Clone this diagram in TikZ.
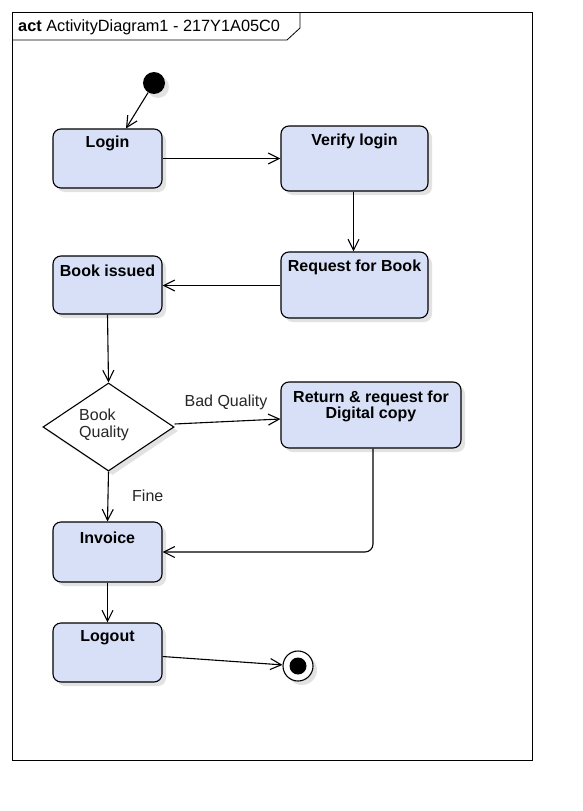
\documentclass[tikz,border=0pt]{standalone}
\usepackage{fontspec}
\setmainfont{Liberation Sans}
\usetikzlibrary{arrows.meta,shapes.geometric,shadows}
\definecolor{actfill}{RGB}{216,224,247}
\definecolor{shadowgray}{RGB}{226,226,226}
\begin{document}
\begin{tikzpicture}[x=1pt,y=-1pt,
  shd/.style={drop shadow={shadow xshift=4pt,shadow yshift=-4pt,fill=shadowgray,opacity=1}},
  act/.style={draw=black,line width=1.1pt,fill=actfill,rounded corners=8pt,inner sep=0pt,shd},
  atext/.style={font=\fontsize{16}{16}\selectfont\bfseries,align=center,inner sep=0pt},
  ltext/.style={font=\fontsize{16}{17}\selectfont,inner sep=0pt,text=black!85},
  flow/.style={draw=black,line width=1.1pt,-{Straight Barb[length=11pt,width=11pt,line width=1.1pt]}}
]
\useasboundingbox (0,0) rectangle (582,811);
\fill[white] (0,0) rectangle (582,811);
% frame
\draw[line width=0.8pt] (12,12) rectangle (532,760);
\coordinate (tabend) at (12,40);
\draw[line width=0.8pt] (tabend) -- (287,40) -- (300,28) -- (300,12);
\node[anchor=base west,inner sep=0pt,font=\fontsize{16.3}{17}\selectfont] (title) at (18,31.5) {\textbf{act}\ ActivityDiagram1 - 217Y1A05C0};

% initial
\node[circle,fill=black,minimum size=22pt,inner sep=0pt,shd] (init) at (154,83) {};

% activities
\node[act,minimum width=109pt,minimum height=59pt] (login) at (107.5,158.5) {};
\node[atext] (tlogin) at (107.5,143) {Login};
\node[act,minimum width=147pt,minimum height=65pt] (verify) at (354.5,158.5) {};
\node[atext] (tverify) at (354.5,141) {Verify login};
\node[act,minimum width=147pt,minimum height=66pt] (req) at (354.5,285) {};
\node[atext] (treq) at (354.5,267.5) {Request for Book};
\node[act,minimum width=109pt,minimum height=58pt] (issued) at (107.5,285) {};
\node[atext] (tissued) at (107.5,271) {Book issued};
\node[diamond,draw=black,line width=1.1pt,fill=white,minimum width=131pt,minimum height=88pt,inner sep=0pt,shd] (dia) at (108.5,427) {};
\node[ltext,align=left,anchor=west] (tdia) at (79,424.5) {Book\\Quality};
\node[act,minimum width=180pt,minimum height=66pt] (ret) at (371,415) {};
\node[atext] (tret) at (371,406.5) {Return \& request for\\Digital copy};
\node[act,minimum width=109pt,minimum height=60pt] (inv) at (107.5,552) {};
\node[atext] (tinv) at (107.5,538) {Invoice};
\node[act,minimum width=109pt,minimum height=59pt] (logout) at (107.5,652.5) {};
\node[atext] (tlogout) at (107.5,638) {Logout};

% final
\node[circle,draw=black,line width=1.1pt,fill=white,minimum size=30pt,inner sep=0pt,shd] (fin) at (298,666) {};
\node[circle,fill=black,minimum size=17pt,inner sep=0pt] (fincore) at (fin) {};

% labels
\node[ltext] (lbad) at (226,402) {Bad Quality};
\node[ltext,anchor=west] (lfine) at (132,495.5) {Fine};

% flows
\draw[flow] (init) -- ([xshift=18.5pt]login.north);
\draw[flow] (login.east) -- (verify.west);
\draw[flow] ([xshift=-1pt]verify.south) -- ([xshift=-1pt]req.north);
\draw[flow] ([yshift=-0.5pt]req.west) -- ([yshift=-0.5pt]issued.east);
\draw[flow] (issued.south) -- (dia.north);
\draw[flow] ([yshift=3pt]dia.east) -- ([yshift=-4pt]ret.west);
\draw[flow] (dia.south) -- (inv.north);
\draw[flow,rounded corners=8pt] ([xshift=2pt]ret.south) |- (inv.east);
\draw[flow] (inv.south) -- (logout.north);
\draw[flow] ([yshift=-4pt]logout.east) -- (fin);
\end{tikzpicture}
\end{document}
